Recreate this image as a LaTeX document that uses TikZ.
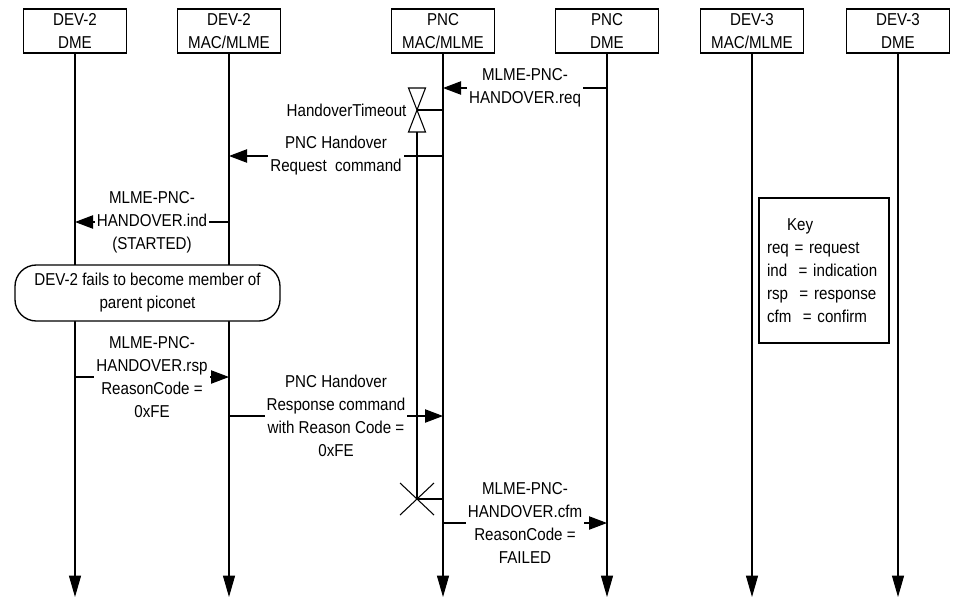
\documentclass[tikz,border=0pt]{standalone}
\usepackage{fontspec}
\setmainfont{Liberation Sans}[FakeStretch=0.88]
\usetikzlibrary{arrows.meta,positioning}

\begin{document}
\begin{tikzpicture}[x=0.75pt, y=-0.75pt, line width=0.8pt,
        font=\fontsize{12.9pt}{17.25pt}\selectfont,
        hdr/.style={draw, line width=1pt, minimum width=77pt, minimum height=33pt, inner sep=0pt, align=center},
        life/.style={-{Triangle[length=16pt,width=9pt]}},
        msg/.style={-{Triangle[length=13.5pt,width=10pt]}},
        lbl/.style={fill=white, inner sep=1.5pt, align=center}]
        \useasboundingbox (0,0) rectangle (955,603);

        % entities
        \node[hdr] (d2dme) at (75,31) {DEV-2\\DME};
        \node[hdr] (d2mac) at (229,31) {DEV-2\\MAC/MLME};
        \node[hdr] (pncmac) at (443,31) {PNC\\MAC/MLME};
        \node[hdr] (pncdme) at (607,31) {PNC\\DME};
        \node[hdr] (d3mac) at (752,31) {DEV-3\\MAC/MLME};
        \node[hdr] (d3dme) at (898,31) {DEV-3\\DME};

        % lifelines
        \foreach \n in {d2dme,d2mac,pncmac,pncdme,d3mac,d3dme} {
            \coordinate (\n-end) at (\n.south |- 0,597);
            \draw[life] (\n) -- (\n-end);
        }

        % message levels
        \coordinate (m1) at (0,88);
        \coordinate (m2) at (0,156);
        \coordinate (m3) at (0,222);
        \coordinate (m4) at (0,377);
        \coordinate (m5) at (0,416);
        \coordinate (m6) at (0,523);

        % state and key
        \node[draw, line width=1pt, fill=white, rounded corners=16pt, minimum width=198.75pt, minimum height=42pt, align=center]
            (fail) at (147.5,293) {DEV-2 fails to become member of\\parent piconet};
        \node[draw, fill=white, text width=85.5pt, inner xsep=6pt, minimum height=108.75pt, align=left]
            (key) at (824,270.5) {\hspace*{15pt}Key\\req = request\\ind\ \ = indication\\rsp\ \ = response\\cfm\ \ = confirm};

        % handover timer
        \coordinate (tmr) at (417,110);
        \coordinate (tmrx) at (417,499);
        \draw (408.5,88) -- (425.5,88) -- (408.5,132) -- (425.5,132) -- cycle;
        \node[anchor=east, inner sep=0pt] (tmrlbl) at (407,110) {HandoverTimeout};
        \draw (tmr) -- (pncmac |- tmr);
        \draw (417,132) -- (tmrx);
        \draw (tmrx) +(-17,-16) -- +(17,16);
        \draw (tmrx) +(17,-16) -- +(-17,16);
        \draw (tmrx) -- (pncmac |- tmrx);

        % messages
        \draw[msg] (pncdme |- m1) -- node[lbl] {MLME-PNC-\\HANDOVER.req} (pncmac |- m1);
        \draw[msg] (pncmac |- m2) -- node[lbl] {PNC Handover\\Request\ \ command} (d2mac |- m2);
        \draw[msg] (d2mac |- m3) -- node[lbl] {MLME-PNC-\\HANDOVER.ind\\(STARTED)} (d2dme |- m3);
        \draw[msg] (d2dme |- m4) -- node[lbl] {MLME-PNC-\\HANDOVER.rsp\\ReasonCode =\\0xFE} (d2mac |- m4);
        \draw[msg] (d2mac |- m5) -- node[lbl] {PNC Handover\\Response command\\with Reason Code =\\0xFE} (pncmac |- m5);
        \draw[msg] (pncmac |- m6) -- node[lbl] {MLME-PNC-\\HANDOVER.cfm\\ReasonCode =\\FAILED} (pncdme |- m6);
\end{tikzpicture}
\end{document}
